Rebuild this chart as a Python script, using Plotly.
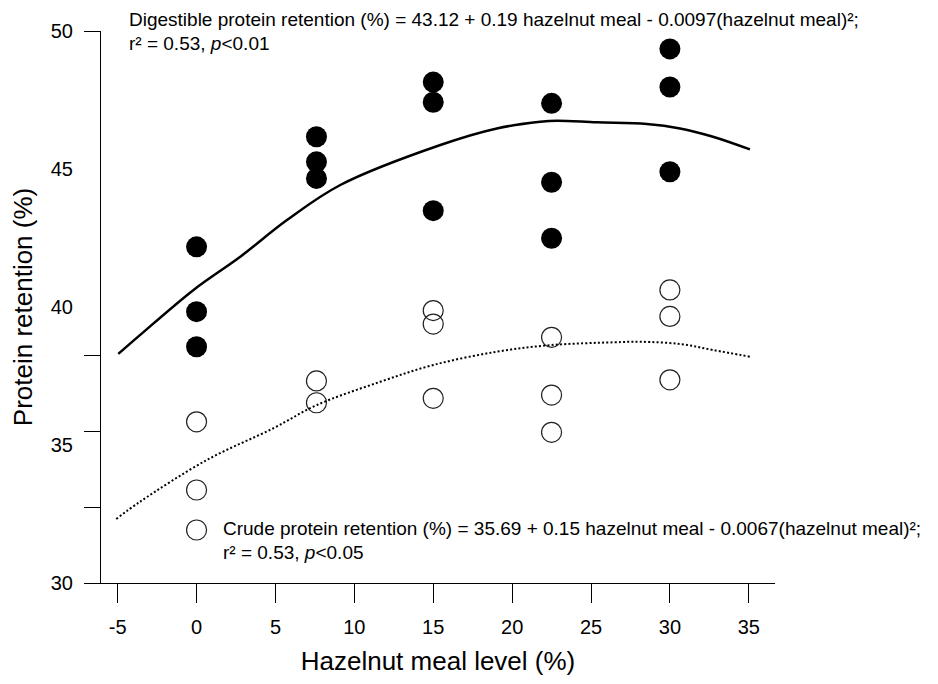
import plotly.graph_objects as go

# ---- data ----
x_levels_filled = [0, 0, 0, 7.6, 7.6, 7.6, 15, 15, 15, 22.5, 22.5, 22.5, 30, 30, 30]
digestible = [42.18, 39.83, 38.56, 46.17, 45.26, 44.66, 48.15, 47.42, 43.49,
              47.38, 44.52, 42.49, 49.35, 47.97, 44.90]

x_levels_open = [0, 0, 0, 7.6, 7.6, 15, 15, 15, 22.5, 22.5, 22.5, 30, 30, 30]
crude = [35.84, 33.37, 31.92, 37.32, 36.53, 39.87, 39.38, 36.69,
         38.90, 36.81, 35.46, 40.62, 39.66, 37.36]

# fitted curves as drawn in the picture
curve_dig_x = [-4.96, -3.57, -0.19, 2.77, 5.73, 9.11, 15.45, 19.03, 21.78, 22.83,
               25.37, 28.53, 30.64, 32.73, 35.07]
curve_dig_y = [38.30, 38.99, 40.62, 41.82, 43.15, 44.42, 45.87, 46.47, 46.71, 46.75,
               46.69, 46.63, 46.47, 46.17, 45.71]
curve_crude_x = [-5.09, -3.57, 0.66, 4.88, 7.63, 11.64, 15.01, 19.03, 22.45, 26.42,
                 28.11, 30.64, 32.75, 35.07]
curve_crude_y = [32.32, 32.95, 34.46, 35.61, 36.45, 37.29, 37.90, 38.38, 38.62, 38.72,
                 38.74, 38.66, 38.44, 38.20]

x_tick_vals = [-5, 0, 5, 10, 15, 20, 25, 30, 35]
x_tick_text = ["-5", "0", "5", "10", "15", "20", "25", "30", "35"]
y_label_vals = [30, 35, 40, 45, 50]
y_label_text = ["30", "35", "40", "45", "50"]
y_mark_vals = [30, 32.75, 35.5, 38.25, 50]

FONT = "Liberation Sans, Arial, sans-serif"

fig = go.Figure()
fig.add_trace(go.Scatter(x=curve_dig_x, y=curve_dig_y, mode="lines",
                         line=dict(color="black", width=2.5, shape="spline"),
                         yaxis="y2", hoverinfo="skip", showlegend=False))
fig.add_trace(go.Scatter(x=curve_crude_x, y=curve_crude_y, mode="lines",
                         line=dict(color="black", width=2, dash="2px,2.2px", shape="spline"),
                         yaxis="y2", hoverinfo="skip", showlegend=False))
fig.add_trace(go.Scatter(x=x_levels_filled, y=digestible, mode="markers",
                         marker=dict(symbol="circle", size=21, color="black",
                                     line=dict(width=0)),
                         showlegend=False))
fig.add_trace(go.Scatter(x=x_levels_open, y=crude, mode="markers",
                         marker=dict(symbol="circle", size=20, color="rgba(0,0,0,0)",
                                     line=dict(width=1.2, color="#222")),
                         showlegend=False))

fig.update_layout(
    width=938, height=684,
    margin=dict(l=93, r=171, t=23, b=109, autoexpand=False),
    paper_bgcolor="white", plot_bgcolor="white",
    font=dict(family=FONT, color="black", size=20),
    xaxis=dict(range=[-6.056, 36.66], tickvals=x_tick_vals, ticktext=x_tick_text,
               ticks="outside", ticklen=19, tickwidth=1, tickcolor="black",
               ticklabelstandoff=7, automargin=False,
               showline=True, linecolor="black", linewidth=1,
               showgrid=False, zeroline=False,
               tickfont=dict(size=20),
               title=dict(text="Hazelnut meal level (%)", font=dict(size=26), standoff=14)),
    yaxis=dict(range=[30, 50], tickvals=y_label_vals, ticktext=y_label_text,
               ticks="outside", ticklen=16, tickcolor="rgba(0,0,0,0)",
               ticklabelstandoff=7, automargin=False,
               showline=True, linecolor="black", linewidth=1,
               showgrid=False, zeroline=False,
               tickfont=dict(size=20),
               title=dict(text="Protein retention (%)", font=dict(size=26), standoff=14)),
    yaxis2=dict(range=[30, 50], overlaying="y", side="left",
                tickvals=y_mark_vals, showticklabels=False, automargin=False,
                ticks="outside", ticklen=16, tickwidth=1, tickcolor="black",
                showline=False, showgrid=False, zeroline=False),
)

ann_font = dict(family=FONT, size=19, color="black")
lines = [
    (0.040, 1.0208, "Digestible protein retention (%) = 43.12 + 0.19 hazelnut meal - 0.0097(hazelnut meal)²;"),
    (0.040, 0.9765, "r² = 0.53, <i>p</i><0.01"),
    (0.180, 0.0996, "Crude protein retention (%) = 35.69 + 0.15 hazelnut meal - 0.0067(hazelnut meal)²;"),
    (0.180, 0.056, "r² = 0.53, <i>p</i><0.05"),
]
for ax, ay, txt in lines:
    fig.add_annotation(x=ax, y=ay, xref="paper", yref="paper", text=txt,
                       showarrow=False, xanchor="left", yanchor="middle",
                       font=ann_font, borderpad=0)

fig.write_html("out.html")
